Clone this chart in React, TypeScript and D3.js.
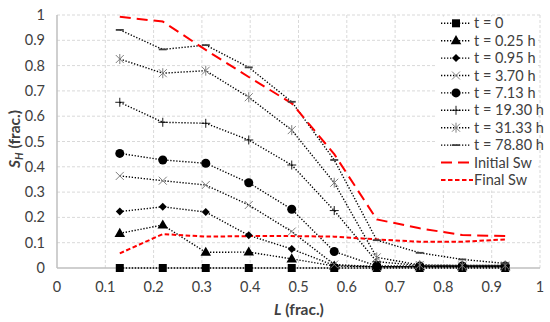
import React from "react";
import * as d3 from "d3";

const xPositions = [0.13, 0.219, 0.308, 0.397, 0.486, 0.574, 0.662, 0.751, 0.839, 0.928];
const t0 = [0, 0, 0, 0, 0, 0, 0, 0, 0, 0];
const t025 = [0.137, 0.17, 0.062, 0.063, 0.036, 0.008, 0.005, 0.005, 0.005, 0.005];
const t095 = [0.223, 0.242, 0.221, 0.129, 0.075, 0.01, 0.005, 0.005, 0.005, 0.005];
const t370 = [0.364, 0.345, 0.328, 0.249, 0.144, 0.014, 0.005, 0.005, 0.005, 0.005];
const t713 = [0.453, 0.427, 0.414, 0.337, 0.232, 0.065, 0.008, 0.008, 0.008, 0.008];
const t1930 = [0.655, 0.576, 0.572, 0.506, 0.407, 0.227, 0.025, 0.01, 0.01, 0.01];
const t3133 = [0.826, 0.77, 0.78, 0.675, 0.545, 0.337, 0.042, 0.012, 0.01, 0.01];
const t7880 = [0.941, 0.864, 0.881, 0.793, 0.657, 0.427, 0.11, 0.06, 0.034, 0.018];
const initialSw = [0.993, 0.974, 0.862, 0.755, 0.651, 0.45, 0.192, 0.157, 0.13, 0.126];
const finalSw = [0.058, 0.134, 0.124, 0.126, 0.126, 0.124, 0.113, 0.104, 0.104, 0.113];

const seriesNames = ["t = 0", "t = 0.25 h", "t = 0.95 h", "t = 3.70 h", "t = 7.13 h", "t = 19.30 h", "t = 31.33 h", "t = 78.80 h"];
const seriesValues = [t0, t025, t095, t370, t713, t1930, t3133, t7880];
const markerKinds = ["square", "triangle", "diamond", "x", "circle", "plus", "asterisk", "dash"];
const xTicks = [0, 0.1, 0.2, 0.3, 0.4, 0.5, 0.6, 0.7, 0.8, 0.9, 1];
const yTicks = [0, 0.1, 0.2, 0.3, 0.4, 0.5, 0.6, 0.7, 0.8, 0.9, 1];

const W = 550, H = 322;
const L = 57, R = 540, T = 15, B = 268;
const FONT = "Lato, 'Liberation Sans', sans-serif";

function Marker({ kind, x, y }: { kind: string; x: number; y: number }) {
  const g = "#808080";
  switch (kind) {
    case "square":
      return <path d={d3.symbol().type(d3.symbolSquare).size(64)()!} transform={`translate(${x},${y})`} fill="#000" />;
    case "triangle":
      return <path d={d3.symbol().type(d3.symbolTriangle).size(48)()!} transform={`translate(${x},${y + 0.5})`} fill="#000" />;
    case "diamond":
      return <path d={`M${x},${y - 4}L${x + 4},${y}L${x},${y + 4}L${x - 4},${y}Z`} fill="#000" />;
    case "circle":
      return <circle cx={x} cy={y} r={4.5} fill="#000" />;
    case "x":
      return (
        <g stroke={g} strokeWidth={1}>
          <line x1={x - 4} y1={y - 4} x2={x + 4} y2={y + 4} />
          <line x1={x - 4} y1={y + 4} x2={x + 4} y2={y - 4} />
        </g>
      );
    case "plus":
      return (
        <g stroke="#000" strokeWidth={0.9}>
          <line x1={x - 4.5} y1={y} x2={x + 4.5} y2={y} />
          <line x1={x} y1={y - 4.5} x2={x} y2={y + 4.5} />
        </g>
      );
    case "asterisk":
      return (
        <g stroke={g} strokeWidth={1}>
          <line x1={x - 4} y1={y - 4} x2={x + 4} y2={y + 4} />
          <line x1={x - 4} y1={y + 4} x2={x + 4} y2={y - 4} />
          <line x1={x} y1={y - 5} x2={x} y2={y + 5} />
        </g>
      );
    case "dash":
      return <line x1={x - 4} y1={y} x2={x + 4} y2={y} stroke="#404040" strokeWidth={1.8} />;
  }
  return null;
}

export default function App() {
  const xs = d3.scaleLinear().domain([0, 1]).range([L, R]);
  const ys = d3.scaleLinear().domain([0, 1]).range([B, T]);
  const line = d3
    .line<number>()
    .x((_, i) => xs(xPositions[i]))
    .y((d) => ys(d));

  const legX = 441;
  const legY0 = 23.3;
  const legDy = 17.4;

  return (
    <svg width={W} height={H} style={{ position: "absolute", left: 0, top: 0, background: "#fff" }} fontFamily={FONT}>
      <rect x={0} y={0} width={W} height={H} fill="#fff" />
      {xTicks.filter((t) => t > 0).map((t) => (
        <line key={"gx" + t} x1={xs(t)} x2={xs(t)} y1={T} y2={B} stroke="#d9d9d9" strokeWidth={1} strokeDasharray="3,2" />
      ))}
      {yTicks.filter((t) => t > 0).map((t) => (
        <line key={"gy" + t} x1={L} x2={R} y1={ys(t)} y2={ys(t)} stroke="#d9d9d9" strokeWidth={1} strokeDasharray="3,2" />
      ))}
      <line x1={L} x2={L} y1={T} y2={B} stroke="#bfbfbf" strokeWidth={1.5} />
      <line x1={L} x2={R} y1={B} y2={B} stroke="#bfbfbf" strokeWidth={1.5} />
      {yTicks.map((t) => (
        <text key={"ty" + t} x={45} y={ys(t)} dy="0.35em" textAnchor="end" fontSize={14.5} fill="#404040">
          {d3.format("")(t)}
        </text>
      ))}
      {xTicks.map((t) => (
        <text key={"tx" + t} x={xs(t)} y={287} dy="0.35em" textAnchor="middle" fontSize={14.5} fill="#404040">
          {d3.format("")(t)}
        </text>
      ))}
      <text x={299} y={310} dy="0.35em" textAnchor="middle" fontSize={15.5} fontWeight="bold" fill="#404040">
        <tspan fontStyle="italic">L</tspan> (frac.)
      </text>
      <text transform={`translate(15,${139}) rotate(-90)`} dy="0.35em" textAnchor="middle" fontSize={15.5} fontWeight="bold" fill="#404040">
        <tspan fontStyle="italic">S</tspan>
        <tspan fontStyle="italic" fontSize={10.5} dy="3">H</tspan>
        <tspan dy="-3"> (frac.)</tspan>
      </text>
      {seriesValues.map((vals, si) => (
        <path key={"s" + si} d={line(vals)!} fill="none" stroke="#000" strokeWidth={1.4} strokeDasharray="1.3,1.7" />
      ))}
      <path d={line(initialSw)!} fill="none" stroke="#ff0000" strokeWidth={2} strokeDasharray="11,6" />
      <path d={line(finalSw)!} fill="none" stroke="#ff0000" strokeWidth={2} strokeDasharray="4.5,2.5" />
      {seriesValues.map((vals, si) => (
        <g key={"m" + si}>
          {vals.map((v, i) => (
            <Marker key={i} kind={markerKinds[si]} x={xs(xPositions[i])} y={ys(v)} />
          ))}
        </g>
      ))}
      <rect x={436} y={16.5} width={102} height={174} fill="#fff" />
      {seriesNames.map((name, i) => {
        const y = legY0 + i * legDy;
        return (
          <g key={"l" + i}>
            <line x1={legX} x2={legX + 30} y1={y} y2={y} stroke="#000" strokeWidth={1.4} strokeDasharray="1.3,1.7" />
            <Marker kind={markerKinds[i]} x={legX + 15} y={y} />
            <text x={474} y={y} dy="0.35em" fontSize={14.5} fill="#404040">
              {name}
            </text>
          </g>
        );
      })}
      {[
        { name: "Initial Sw", dash: "11,6" },
        { name: "Final Sw", dash: "4.5,2.5" },
      ].map((d, i) => {
        const y = legY0 + (8 + i) * legDy;
        return (
          <g key={"lr" + i}>
            <line x1={legX} x2={legX + 32} y1={y} y2={y} stroke="#ff0000" strokeWidth={2} strokeDasharray={d.dash} />
            <text x={474} y={y} dy="0.35em" fontSize={14.5} fill="#404040">
              {d.name}
            </text>
          </g>
        );
      })}
    </svg>
  );
}
